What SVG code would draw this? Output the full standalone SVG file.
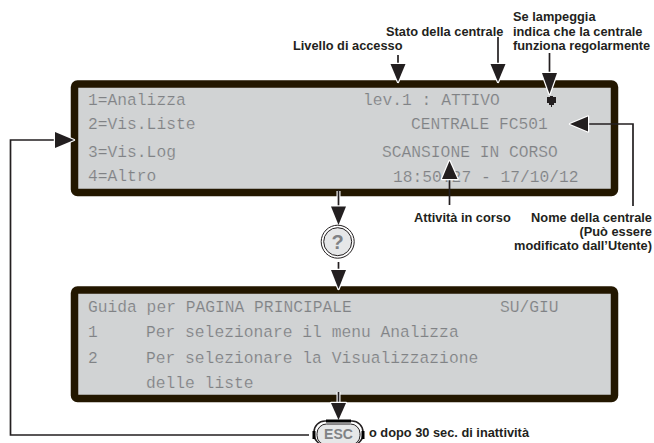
<svg xmlns="http://www.w3.org/2000/svg" width="654" height="443" viewBox="0 0 654 443">
<style>
.panel{fill:#d1d3d4;stroke:#231700;stroke-width:7.5;stroke-linejoin:round}
.lcd{font-family:"Liberation Mono",monospace;font-size:16.3px;fill:#808285;stroke:#d1d3d4;stroke-width:.2;white-space:pre}
.lab{font-family:"Liberation Sans",Arial,sans-serif;font-size:12.8px;font-weight:700;fill:#231f20}
.end{text-anchor:end}
.line{fill:none;stroke:#231f20;stroke-width:1.7}
.halo{fill:none;stroke:#fff;stroke-width:4}
.head{fill:#231f20;stroke:#fff;stroke-width:2.4;stroke-linejoin:round;paint-order:stroke}
.key{fill:#e6e7e8;stroke:#231f20;stroke-width:1}
.kt{font-family:"Liberation Sans",Arial,sans-serif;font-weight:700;fill:#808285;text-anchor:middle}
</style>
<g id="panel-main">
<rect class="panel" x="74.500" y="84" width="540" height="108.500" rx="3"/>
<text class="lcd" x="88" y="105">1=Analizza</text>
<text class="lcd" x="88" y="129">2=Vis.Liste</text>
<text class="lcd" x="88" y="157">3=Vis.Log</text>
<text class="lcd" x="88" y="181">4=Altro</text>
<text class="lcd" x="363" y="105">lev.1 : ATTIVO</text>
<text class="lcd" x="411" y="129">CENTRALE FC501</text>
<text class="lcd" x="382" y="157">SCANSIONE IN CORSO</text>
<text class="lcd" x="393" y="182">18:50:27 - 17/10/12</text>
<path d="M547 97h3v-1h3v1h3v6h-2v2h-2v2h-1v-2h-2v-2h-2z" fill="#231f20"/>
</g>
<g id="panel-help">
<rect class="panel" x="74.500" y="290" width="540" height="108.500" rx="3"/>
<text class="lcd" x="88" y="312">Guida per PAGINA PRINCIPALE</text>
<text class="lcd" x="500" y="312">SU/GIU</text>
<text class="lcd" x="88" y="337">1</text>
<text class="lcd" x="146" y="337">Per selezionare il menu Analizza</text>
<text class="lcd" x="88" y="363">2</text>
<text class="lcd" x="146" y="363">Per selezionare la Visualizzazione</text>
<text class="lcd" x="146" y="388">delle liste</text>
</g>
<g id="labels">
<text class="lab" x="293" y="50">Livello di accesso</text>
<text class="lab" x="386" y="36">Stato della centrale</text>
<text class="lab" x="513" y="21">Se lampeggia</text>
<text class="lab" x="513" y="36">indica che la centrale</text>
<text class="lab" x="513" y="50">funziona regolarmente</text>
<text class="lab" x="414" y="222">Attività in corso</text>
<text class="lab end" x="652" y="222">Nome della centrale</text>
<text class="lab end" x="652" y="236">(Può essere</text>
<text class="lab end" x="652" y="250">modificato dall’Utente)</text>
<text class="lab" x="369" y="437">o dopo 30 sec. di inattività</text>
</g>
<g id="connectors">
<path class="line" d="M398 55V68"/><path class="head" d="M390.500 64H405.500L398 82Z"/>
<path class="line" d="M498 37V68"/><path class="head" d="M490.500 64H505.500L498 82Z"/>
<path class="line" d="M549.500 53V76"/><path class="head" d="M542 73H557L549.500 94Z"/>
<path class="line" d="M633 206V124H585"/><path class="head" d="M588 116.500V131.500L570 124Z"/>
<path class="line" d="M449.500 205V178"/><path class="head" d="M442 179H457.500L449.500 161Z"/>
<path class="halo" d="M338.500 191V203"/><path class="line" d="M338.500 190V208"/><path class="head" d="M331 206.500H346L338.500 225Z"/>
<path class="line" d="M338.500 262V274"/><path class="head" d="M331 270H346L338.500 289Z"/>
<path class="halo" d="M338.500 392V403"/><path class="line" d="M338.500 392V406"/><path class="head" d="M331 403H346L338.500 420Z"/>
<path class="line" d="M309 435H10.500V140H60"/><path class="head" d="M55 132V148L74 140Z"/>
</g>
<g id="key-help">
<circle cx="337.700" cy="241.700" r="16.500" fill="#fff" stroke="#231f20" stroke-width="1"/>
<circle cx="337.700" cy="241.700" r="14" class="key" stroke-width="1.500"/>
<text class="kt" x="337.700" y="248.500" font-size="20">?</text>
</g>
<g id="key-esc">
<rect x="314" y="421" width="49" height="24" rx="11" fill="#fff" stroke="#231f20" stroke-width="1.500"/>
<rect x="317" y="424" width="43" height="21" rx="9.500" class="key"/>
<path d="M326 421H351M314 431V439M363 431V439" stroke="#000" stroke-width="3"/>
<text class="kt" x="338.500" y="439" font-size="14">ESC</text>
</g>
</svg>
